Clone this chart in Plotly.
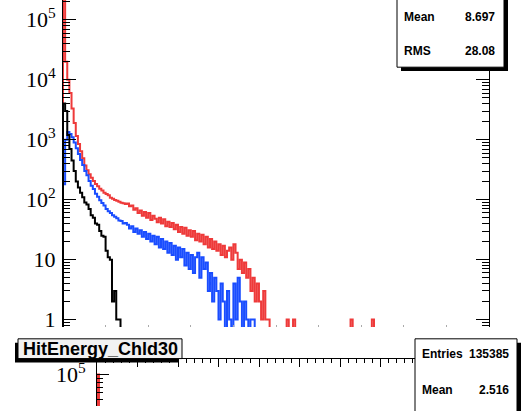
import numpy as np
import plotly.graph_objects as go

W, H = 521, 411

# ---------------- data (counts per bin, bin width 2.5, x from 0) ----------------
bin_width = 2.5
red_counts = [300000, 20000, 10000, 6000, 3300, 1900, 1150, 850, 640, 490,
              370, 310, 265, 232, 205, 182, 168, 152, 142, 131,
              124, 118, 108, 104, 99, 96, 92, 89, 87, 85,
              86, 78, 80, 68, 72, 60, 66, 54, 62, 50,
              60, 46, 54, 48, 42, 50, 40, 47, 36, 43,
              35, 41, 32, 38, 29, 35, 27, 34, 25, 31,
              24, 30, 21, 27, 20, 26, 18, 24, 16, 22,
              15, 20, 14, 18, 12, 17, 11, 14, 16, 10,
              18, 13, 7, 10, 6, 9, 5, 7, 3, 5,
              2, 4, 2, 1, 3, 1, 1, 0, 0, 0,
              0, 0, 0, 0, 0, 1, 0, 0, 1, 0,
              0, 0, 0, 0, 0, 0, 0, 0, 0, 0,
              0, 0, 0, 0, 0, 0, 0, 0, 0, 0,
              0, 0, 0, 0, 0, 1, 0, 0, 0, 0,
              0, 0, 0, 0, 0, 1, 0]
blue_counts = [180, 1000, 1350, 1250, 1100, 900, 720, 580, 460, 380,
               300, 255, 205, 170, 150, 125, 112, 98, 88, 80,
               70, 64, 60, 55, 52, 49, 45, 44, 40, 41,
               38, 33, 36, 29, 33, 27, 31, 24, 29, 22,
               27, 20, 25, 18, 24, 16, 22, 15, 20, 13,
               19, 12, 17, 10, 16, 11, 15, 8, 13, 7,
               12, 6, 11, 13, 5, 11, 7, 9, 3, 6,
               2, 5, 3, 1, 4, 2, 0, 3, 1, 0,
               4, 1, 5, 2, 0, 2, 1, 0, 1, 1,
               0]
black_counts = [4000, 3000, 1200, 700, 450, 300, 200, 160, 130, 110,
                90, 83, 70, 55, 50, 40, 38, 30, 25, 24,
                14, 11, 10, 2, 3, 1, 1]

# lower pad histogram
low_bin_width = 0.05
low_counts = [100000]

y_ticks = [1, 10, 100, 1000, 10000, 100000]
y_ticktext = ["1", "10", "10<sup>2</sup>", "10<sup>3</sup>", "10<sup>4</sup>", "10<sup>5</sup>"]

stats_top = [("Mean", "8.697"), ("RMS", "28.08")]
stats_low = [("Entries", "135385"), ("Mean", "2.516")]
title_text = "HitEnergy_Chld30"

RED = "#ee3a3a"
BLUE = "#1a4dff"
BLACK = "#000000"
FLOOR = 1e-3


def step_xy(counts, width):
    counts = np.asarray(counts, dtype=float)
    vals = np.where(counts > 0, counts, FLOOR)
    edges = np.arange(len(counts) + 1) * width
    xs = np.concatenate([[edges[0]], edges[:-1], [edges[-1], edges[-1]]])
    ys = np.concatenate([[FLOOR], vals, [vals[-1], FLOOR]])
    return xs, ys


fig = go.Figure()
for counts, col in [(red_counts, RED), (blue_counts, BLUE), (black_counts, BLACK)]:
    xs, ys = step_xy(counts, bin_width)
    fig.add_trace(go.Scatter(x=xs, y=ys, mode="lines", line=dict(color=col, width=2, shape="hv"),
                             xaxis="x", yaxis="y", showlegend=False, hoverinfo="skip"))

xs, ys = step_xy(low_counts, low_bin_width)
fig.add_trace(go.Scatter(x=xs, y=ys, mode="lines", line=dict(color=RED, width=2, shape="hv"),
                         xaxis="x2", yaxis="y2", showlegend=False, hoverinfo="skip"))


def px(x):
    return x / W


def py(y):
    return 1 - y / H


minor_vals = [m * 10 ** k for k in range(-1, 6) for m in range(2, 10)]
tickfont = dict(family="Liberation Serif", size=22, color="black")

fig.update_layout(
    width=W, height=H, margin=dict(l=0, r=0, t=0, b=0),
    paper_bgcolor="white", plot_bgcolor="rgba(0,0,0,0)",
    showlegend=False,
    xaxis=dict(domain=[px(63), px(489)], range=[0, 500], anchor="y",
               showline=False, showgrid=False, zeroline=False,
               ticks="inside", ticklen=2, tickcolor="#aaaaaa", dtick=50, tick0=0,
               showticklabels=False),
    yaxis=dict(domain=[py(331), 1], type="log", range=[-0.123, 5.33], anchor="x",
               showline=True, linecolor="black", linewidth=1, mirror="ticks",
               showgrid=False, zeroline=False,
               tickmode="array", tickvals=y_ticks, ticktext=y_ticktext,
               ticks="inside", ticklen=13, tickwidth=1, tickcolor="black",
               minor=dict(tickmode="array", tickvals=minor_vals, ticks="inside",
                          ticklen=7, tickwidth=1, tickcolor="black"),
               tickfont=tickfont, ticklabelstandoff=2),
    xaxis2=dict(domain=[px(97), px(502)], range=[0, 10], anchor="y2", side="top",
                showline=True, linecolor="black", linewidth=1,
                showgrid=False, zeroline=False,
                ticks="inside", ticklen=8, tickcolor="black", dtick=1, tick0=0,
                minor=dict(ticks="inside", ticklen=4, dtick=0.2, tickcolor="black"),
                showticklabels=False),
    yaxis2=dict(domain=[0, py(363)], type="log", range=[4.62, 5.19], anchor="x2",
                showline=True, linecolor="black", linewidth=1,
                showgrid=False, zeroline=False,
                tickmode="array", tickvals=[100000], ticktext=["10<sup>5</sup>"],
                ticks="inside", ticklen=12, tickcolor="black",
                minor=dict(tickmode="array", tickvals=[50000, 60000, 70000, 80000, 90000],
                           ticks="inside", ticklen=6, tickcolor="black"),
                tickfont=tickfont, ticklabelstandoff=6),
)

shapes = []
# top stats box (shadow + box)
shapes.append(dict(type="rect", xref="paper", yref="paper", layer="above",
                   x0=px(401), x1=px(508), y0=py(72), y1=py(-10),
                   fillcolor="black", line=dict(width=0)))
shapes.append(dict(type="rect", xref="paper", yref="paper", layer="above",
                   x0=px(397), x1=px(504), y0=py(68), y1=py(-10),
                   fillcolor="white", line=dict(color="black", width=1)))
# lower stats box
shapes.append(dict(type="rect", xref="paper", yref="paper", layer="above",
                   x0=px(419), x1=px(521.5), y0=py(430), y1=py(347),
                   fillcolor="black", line=dict(width=0)))
shapes.append(dict(type="rect", xref="paper", yref="paper", layer="above",
                   x0=px(415), x1=px(517), y0=py(430), y1=py(343),
                   fillcolor="white", line=dict(color="black", width=1)))
# title box (shadow to lower-left)
shapes.append(dict(type="rect", xref="paper", yref="paper", layer="above",
                   x0=px(15), x1=px(179), y0=py(367), y1=py(347),
                   fillcolor="black", line=dict(width=0)))
shapes.append(dict(type="rect", xref="paper", yref="paper", layer="above",
                   x0=px(18), x1=px(182), y0=py(363), y1=py(343),
                   fillcolor="#f2f2f2", line=dict(color="black", width=1)))
fig.update_layout(shapes=shapes)

statfont = dict(family="Liberation Sans", size=12, color="black")
ann = []
for (lab, val), yy in zip(stats_top, [17, 52]):
    ann.append(dict(xref="paper", yref="paper", x=px(402), y=py(yy), text="<b>%s</b>" % lab,
                    xanchor="left", yanchor="middle", showarrow=False, font=statfont))
    ann.append(dict(xref="paper", yref="paper", x=px(497), y=py(yy), text="<b>%s</b>" % val,
                    xanchor="right", yanchor="middle", showarrow=False, font=statfont))
for (lab, val), yy in zip(stats_low, [358, 395]):
    ann.append(dict(xref="paper", yref="paper", x=px(420), y=py(yy), text="<b>%s</b>" % lab,
                    xanchor="left", yanchor="middle", showarrow=False, font=statfont))
    ann.append(dict(xref="paper", yref="paper", x=px(511), y=py(yy), text="<b>%s</b>" % val,
                    xanchor="right", yanchor="middle", showarrow=False, font=statfont))
ann.append(dict(xref="paper", yref="paper", x=px(100), y=py(353), text="<b>%s</b>" % title_text,
                xanchor="center", yanchor="middle", showarrow=False,
                font=dict(family="Liberation Sans", size=18, color="black")))
fig.update_layout(annotations=ann)

fig.write_html("out.html")
